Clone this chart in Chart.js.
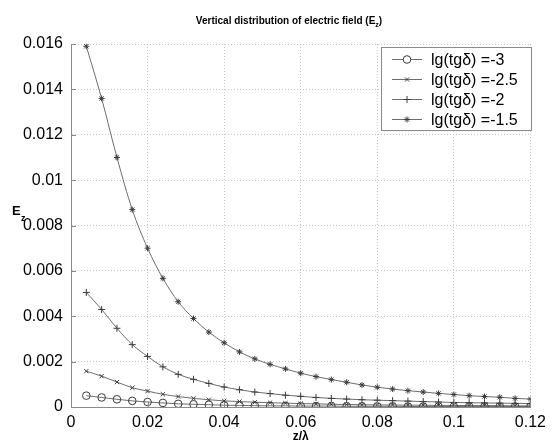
<!DOCTYPE html>
<html>
<head>
<meta charset="utf-8">
<script src="https://cdn.jsdelivr.net/npm/chart.js@4"></script>
<style>
  html, body { margin: 0; padding: 0; background: #fff; }
</style>
</head>
<body>
<canvas id="fieldChart" width="552" height="445"></canvas>
<script>
const zOverLambda = [0.004, 0.008, 0.012, 0.016, 0.02, 0.024, 0.028, 0.032, 0.036, 0.04,
  0.044, 0.048, 0.052, 0.056, 0.06, 0.064, 0.068, 0.072, 0.076, 0.08,
  0.084, 0.088, 0.092, 0.096, 0.1, 0.104, 0.108, 0.112, 0.116, 0.12];

const seriesLabels = ["lg(tg\u03b4) =-3", "lg(tg\u03b4) =-2.5", "lg(tg\u03b4) =-2", "lg(tg\u03b4) =-1.5"];

const ezTgM3 = [0.0005, 0.00042, 0.00034, 0.00027, 0.00022, 0.00018, 0.00014, 0.00012, 0.0001, 0.00008,
  0.00007, 0.00006, 0.00005, 0.00005, 0.00004, 0.00004, 0.00004, 0.00003, 0.00003, 0.00003,
  0.00003, 0.00002, 0.00002, 0.00002, 0.00002, 0.00002, 0.00002, 0.00002, 0.00002, 0.00002];

const ezTgM25 = [0.00158, 0.00136, 0.0011, 0.00085, 0.0007, 0.00056, 0.00046, 0.00038, 0.00032, 0.00027,
  0.00024, 0.00021, 0.00019, 0.00017, 0.00015, 0.00014, 0.00012, 0.00011, 0.0001, 0.00009,
  0.00009, 0.00008, 0.00008, 0.00007, 0.00007, 0.00006, 0.00006, 0.00006, 0.00005, 0.00005];

const ezTgM2 = [0.00505, 0.0043, 0.00347, 0.00275, 0.00223, 0.00177, 0.00144, 0.00122, 0.00104, 0.00088,
  0.00076, 0.00066, 0.00059, 0.00052, 0.00047, 0.00042, 0.00038, 0.00035, 0.00032, 0.0003,
  0.00028, 0.00026, 0.00024, 0.00022, 0.0002, 0.00019, 0.00018, 0.00017, 0.00016, 0.00015];

const ezTgM15 = [0.0159, 0.0136, 0.011, 0.0087, 0.007, 0.00567, 0.00464, 0.0039, 0.0033, 0.00283,
  0.00243, 0.00212, 0.00188, 0.00168, 0.00149, 0.00134, 0.00121, 0.00109, 0.00097, 0.00087,
  0.00079, 0.00072, 0.00066, 0.0006, 0.00055, 0.0005, 0.00046, 0.00043, 0.00038, 0.00035];

const yTicks = [0, 0.002, 0.004, 0.006, 0.008, 0.01, 0.012, 0.014, 0.016];
const xTicks = [0, 0.02, 0.04, 0.06, 0.08, 0.1, 0.12];

const FONT = "Liberation Sans, Arial, sans-serif";
const lineColor = "#6e6e6e";
const markColor = "#3c3c3c";

function toPoints(ys) {
  return ys.map((y, i) => ({ x: zOverLambda[i], y: y }));
}

function makeSet(label, ys, style, radius) {
  return {
    label: label,
    data: toPoints(ys),
    borderColor: lineColor,
    borderWidth: 1,
    pointStyle: style,
    pointRadius: radius,
    pointBorderColor: markColor,
    pointBorderWidth: 1,
    pointBackgroundColor: "rgba(0,0,0,0)",
    cubicInterpolationMode: "monotone",
    fill: false,
  };
}

const styles = ["circle", "crossRot", "cross", "star"];
const radii = [3.8, 3, 3.5, 3];
const allSeries = [ezTgM3, ezTgM25, ezTgM2, ezTgM15];

// title, E_z label, inward ticks and the boxed legend
const decor = {
  id: "decor",
  afterDraw(chart) {
    const ctx = chart.ctx;
    const area = chart.chartArea;
    const xs = chart.scales.x;
    const ys = chart.scales.y;
    ctx.save();

    ctx.strokeStyle = "#8a8a8a";
    ctx.lineWidth = 1;
    ctx.beginPath();
    yTicks.forEach((v) => {
      const py = Math.round(ys.getPixelForValue(v)) + 0.5;
      ctx.moveTo(area.left, py);
      ctx.lineTo(area.left + 5, py);
    });
    xTicks.forEach((v) => {
      const px = Math.round(xs.getPixelForValue(v)) + 0.5;
      ctx.moveTo(px, area.bottom);
      ctx.lineTo(px, area.bottom - 5);
    });
    ctx.stroke();

    ctx.fillStyle = "#000";
    ctx.textBaseline = "middle";
    ctx.font = "bold 10px " + FONT;
    const t1 = "Vertical distribution of electric field (E";
    const w1 = ctx.measureText(t1).width;
    ctx.font = "bold 7px " + FONT;
    const wz = ctx.measureText("z").width;
    ctx.font = "bold 10px " + FONT;
    const wp = ctx.measureText(")").width;
    let tx = 289 - (w1 + wz + wp) / 2;
    ctx.textAlign = "left";
    ctx.fillText(t1, tx, 21);
    ctx.font = "bold 7px " + FONT;
    ctx.fillText("z", tx + w1, 25);
    ctx.font = "bold 10px " + FONT;
    ctx.fillText(")", tx + w1 + wz, 21);

    ctx.font = "bold 13px " + FONT;
    ctx.fillText("E", 12, 211);
    ctx.font = "bold 9px " + FONT;
    ctx.fillText("z", 21, 219);

    // legend
    const lx = 381, ly = 47, lw = 150, lh = 83;
    ctx.fillStyle = "#fff";
    ctx.fillRect(lx, ly, lw, lh);
    ctx.strokeStyle = "#8a8a8a";
    ctx.strokeRect(lx + 0.5, ly + 0.5, lw, lh);
    ctx.font = "16px " + FONT;
    chart.data.datasets.forEach((ds, i) => {
      const ry = 59.5 + i * 20;
      ctx.strokeStyle = lineColor;
      ctx.beginPath();
      ctx.moveTo(392, ry);
      ctx.lineTo(422, ry);
      ctx.stroke();
      ctx.strokeStyle = markColor;
      Chart.helpers.drawPoint(ctx, {
        pointStyle: ds.pointStyle,
        radius: ds.pointRadius,
        borderWidth: 1,
      }, 407, ry);
      ctx.fillStyle = "#000";
      ctx.fillText(ds.label, 431, ry + 1);
    });
    ctx.restore();
  },
};

Chart.defaults.font.family = FONT;
Chart.defaults.color = "#000";

new Chart(document.getElementById("fieldChart").getContext("2d"), {
  type: "line",
  data: {
    datasets: seriesLabels.map((lab, i) => makeSet(lab, allSeries[i], styles[i], radii[i])),
  },
  plugins: [decor],
  options: {
    responsive: false,
    animation: false,
    layout: { padding: { top: 44, right: 15, left: 0, bottom: 0 } },
    plugins: {
      legend: { display: false },
      tooltip: { enabled: false },
      title: { display: false },
    },
    scales: {
      x: {
        type: "linear",
        min: 0,
        max: 0.12,
        afterBuildTicks: (s) => { s.ticks = xTicks.map((v) => ({ value: v })); },
        afterFit: (s) => { s.height = 38; },
        grid: {
          color: "#c8c8c8",
          drawTicks: false,
        },
        border: { color: "#8a8a8a", dash: [1, 2] },
        ticks: {
          padding: 6,
          font: { size: 16 },
          color: "#000",
          maxRotation: 0,
          callback: (v) => String(v),
        },
        title: {
          display: true,
          text: "z/\u03bb",
          font: { size: 12, weight: "bold" },
          padding: { top: 0, bottom: 1 },
        },
      },
      y: {
        min: 0,
        max: 0.016,
        afterBuildTicks: (s) => { s.ticks = yTicks.map((v) => ({ value: v })); },
        afterFit: (s) => { s.width = 71; },
        grid: {
          color: "#c8c8c8",
          drawTicks: false,
        },
        border: { color: "#8a8a8a", dash: [1, 2] },
        ticks: {
          padding: 8,
          font: { size: 16 },
          color: "#000",
          callback: (v) => String(v),
        },
      },
    },
  },
});
</script>
</body>
</html>
